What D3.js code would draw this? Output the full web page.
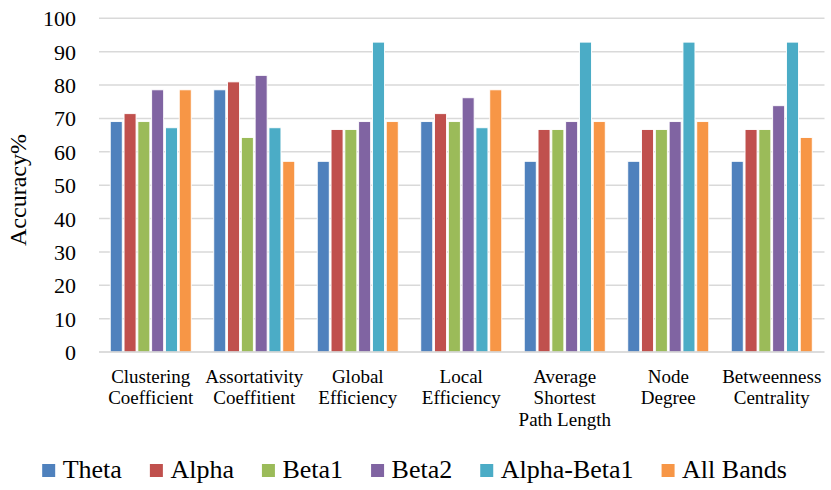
<!DOCTYPE html>
<html>
<head>
<meta charset="utf-8">
<script src="https://cdn.jsdelivr.net/npm/d3@7"></script>
<style>
  html, body { margin: 0; padding: 0; background: #fff; }
  svg { display: block; }
  text { font-family: "Liberation Serif", "Times New Roman", serif; fill: #000; }
</style>
</head>
<body>
<svg id="chart" width="831" height="490"></svg>
<script>
const categories = [
  ["Clustering", "Coefficient"],
  ["Assortativity", "Coeffitient"],
  ["Global", "Efficiency"],
  ["Local", "Efficiency"],
  ["Average", "Shortest", "Path Length"],
  ["Node", "Degree"],
  ["Betweenness", "Centrality"]
];
const seriesNames = ["Theta", "Alpha", "Beta1", "Beta2", "Alpha-Beta1", "All Bands"];
const seriesColors = ["#4F81BD", "#C0504D", "#9BBB59", "#8064A2", "#4BACC6", "#F79646"];

const theta      = [69.05, 78.57, 57.14, 69.05, 57.14, 57.14, 57.14];
const alpha      = [71.43, 80.95, 66.67, 71.43, 66.67, 66.67, 66.67];
const beta1      = [69.05, 64.29, 66.67, 69.05, 66.67, 66.67, 66.67];
const beta2      = [78.57, 82.90, 69.05, 76.19, 69.05, 69.05, 73.81];
const alphaBeta1 = [67.20, 67.20, 92.86, 67.20, 92.86, 92.86, 92.86];
const allBands   = [78.57, 57.14, 69.05, 78.57, 69.05, 69.05, 64.29];

const yTicks = [0, 10, 20, 30, 40, 50, 60, 70, 80, 90, 100];
const yTitle = "Accuracy%";

const seriesValues = [theta, alpha, beta1, beta2, alphaBeta1, allBands];
const catKeys = categories.map(c => c.join(" "));

const svg = d3.select("#chart");
const plotLeft = 99, plotRight = 823.5, plotTop = 18.3, plotBottom = 352;

const y = d3.scaleLinear().domain([0, 100]).range([plotBottom, plotTop]);
const x0 = d3.scaleBand().domain(catKeys).range([plotLeft, plotRight]).padding(0);
const bw = x0.bandwidth();
const groupW = 81;
const x1 = d3.scaleBand().domain(seriesNames)
  .range([(bw - groupW) / 2, (bw + groupW) / 2])
  .paddingInner(0.13).paddingOuter(0);
const color = d3.scaleOrdinal().domain(seriesNames).range(seriesColors);

// gridlines
svg.append("g").selectAll("line")
  .data(yTicks.filter(t => t > 0))
  .join("line")
  .attr("x1", plotLeft).attr("x2", plotRight + 1)
  .attr("y1", d => y(d)).attr("y2", d => y(d))
  .attr("stroke", "#d9d9d9").attr("stroke-width", 1.5);

// y axis labels
const yAxis = d3.axisLeft(y).tickValues(yTicks).tickSize(0).tickPadding(0);
const yg = svg.append("g").attr("transform", `translate(76,0)`).call(yAxis);
yg.select(".domain").remove();
yg.selectAll("text")
  .attr("font-size", 22)
  .attr("font-family", '"Liberation Serif", "Times New Roman", serif')
  .attr("fill", "#000")
  .attr("dy", "0.34em");

// bars
const data = [];
catKeys.forEach((c, i) => {
  seriesNames.forEach((s, j) => {
    data.push({ cat: c, series: s, value: seriesValues[j][i] });
  });
});
svg.append("g").selectAll("rect")
  .data(data)
  .join("rect")
  .attr("x", d => x0(d.cat) + x1(d.series))
  .attr("y", d => y(d.value))
  .attr("width", x1.bandwidth())
  .attr("height", d => y(0) - y(d.value))
  .attr("fill", d => color(d.series))
  .attr("stroke", "#ffffff")
  .attr("stroke-width", 0.9);

// baseline axis
svg.append("line")
  .attr("x1", plotLeft).attr("x2", plotRight + 1)
  .attr("y1", y(0)).attr("y2", y(0))
  .attr("stroke", "#d0d0d0").attr("stroke-width", 1.5);

// x labels
const xg = svg.append("g");
categories.forEach((lines, i) => {
  const t = xg.append("text")
    .attr("x", x0(catKeys[i]) + bw / 2)
    .attr("y", 382.7)
    .attr("text-anchor", "middle")
    .attr("font-size", 19);
  lines.forEach((ln, k) => {
    t.append("tspan")
      .attr("x", x0(catKeys[i]) + bw / 2)
      .attr("dy", k === 0 ? 0 : 21.6)
      .text(ln);
  });
});

// y title
svg.append("text")
  .attr("transform", "translate(26,190) rotate(-90)")
  .attr("text-anchor", "middle")
  .attr("font-size", 24)
  .text(yTitle);

// legend
const lg = svg.append("g");
const items = lg.selectAll("g.item").data(seriesNames).join("g").attr("class", "item");
items.append("rect").attr("width", 13).attr("height", 13).attr("y", 464)
  .attr("fill", d => color(d));
items.append("text").attr("y", 478.3).attr("font-size", 26).text(d => d);
let cx = 0;
const positions = [];
items.each(function() {
  const w = d3.select(this).select("text").node().getComputedTextLength();
  positions.push(cx);
  cx += 13 + 7.5 + w + 28;
});
const totalW = cx - 28;
const startX = 414.5 - totalW / 2;
items.each(function(d, i) {
  const g = d3.select(this);
  g.select("rect").attr("x", startX + positions[i]);
  g.select("text").attr("x", startX + positions[i] + 20.5);
});
</script>
</body>
</html>
